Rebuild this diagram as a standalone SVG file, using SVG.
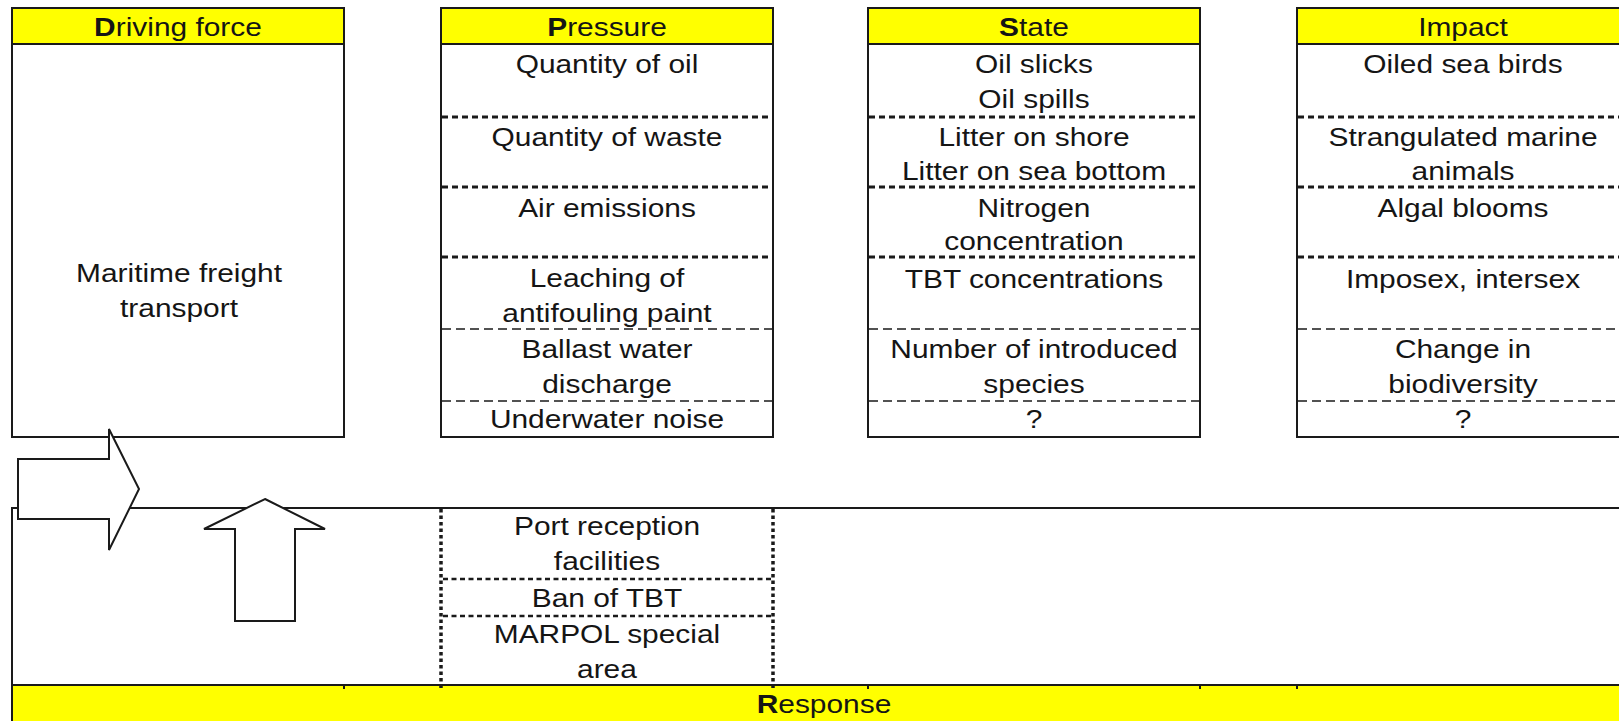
<svg xmlns="http://www.w3.org/2000/svg" width="1619" height="721" viewBox="0 0 1619 721">
<style>
.box{fill:#fff;stroke:#1a1a1a;stroke-width:2}
.hdr{fill:#ffff00;stroke:#1a1a1a;stroke-width:2}
.t{font-family:"Liberation Sans",Arial,sans-serif;font-size:26px;fill:#151515;text-anchor:middle;transform-box:fill-box;transform-origin:center;transform:scaleX(1.15)}
.b{font-weight:bold}
.dk{stroke:#1a1a1a;stroke-width:3;stroke-dasharray:6 4;fill:none}
.dt{stroke:#1a1a1a;stroke-width:1.4;stroke-dasharray:9 5;fill:none}
.dv{stroke:#1a1a1a;stroke-width:3.5;stroke-dasharray:3.5 3;fill:none}
.dr{stroke:#1a1a1a;stroke-width:2.5;stroke-dasharray:5 3.5;fill:none}
.ln{stroke:#1a1a1a;stroke-width:2;fill:none}
.arr{fill:#fff;stroke:#1a1a1a;stroke-width:2;stroke-linejoin:miter}
</style>
<rect width="1619" height="721" fill="#fff"/>

<g id="node-response">
<path class="ln" d="M12,685 V508 H1625"/>
<rect x="12" y="685" width="1612" height="40" fill="#ffff00" stroke="#1a1a1a" stroke-width="2"/>
<path class="ln" d="M344,685v4 M868,685v4 M1200,685v4 M1297,685v4"/>
<line class="dv" x1="441" y1="509" x2="441" y2="688"/>
<line class="dv" x1="773" y1="509" x2="773" y2="688"/>
<line class="dr" x1="443" y1="579" x2="771" y2="579"/>
<line class="dr" x1="443" y1="616" x2="771" y2="616"/>
<text class="t" x="607" y="535">Port reception</text>
<text class="t" x="607" y="570">facilities</text>
<text class="t" x="607" y="607">Ban of TBT</text>
<text class="t" x="607" y="643">MARPOL special</text>
<text class="t" x="607" y="678">area</text>
<text class="t" x="824" y="713"><tspan class="b">R</tspan>esponse</text>
</g>

<g id="node-driving">
<rect class="box" x="12" y="8" width="332" height="429"/>
<rect class="hdr" x="12" y="8" width="332" height="36"/>
<text class="t" x="178" y="36"><tspan class="b">D</tspan>riving force</text>
<text class="t" x="179" y="282">Maritime freight</text>
<text class="t" x="179" y="317">transport</text>
</g>

<g id="node-pressure">
<rect class="box" x="441" y="8" width="332" height="429"/>
<rect class="hdr" x="441" y="8" width="332" height="36"/>
<text class="t" x="607" y="36"><tspan class="b">P</tspan>ressure</text>
<line class="dk" x1="442" y1="117" x2="772" y2="117"/>
<line class="dk" x1="442" y1="187" x2="772" y2="187"/>
<line class="dk" x1="442" y1="257" x2="772" y2="257"/>
<line class="dt" x1="442" y1="329" x2="772" y2="329"/>
<line class="dt" x1="442" y1="401" x2="772" y2="401"/>
<text class="t" x="607" y="73">Quantity of oil</text>
<text class="t" x="607" y="146">Quantity of waste</text>
<text class="t" x="607" y="217">Air emissions</text>
<text class="t" x="607" y="287">Leaching of</text>
<text class="t" x="607" y="322">antifouling paint</text>
<text class="t" x="607" y="358">Ballast water</text>
<text class="t" x="607" y="393">discharge</text>
<text class="t" x="607" y="428">Underwater noise</text>
</g>

<g id="node-state">
<rect class="box" x="868" y="8" width="332" height="429"/>
<rect class="hdr" x="868" y="8" width="332" height="36"/>
<text class="t" x="1034" y="36"><tspan class="b">S</tspan>tate</text>
<line class="dk" x1="869" y1="117" x2="1199" y2="117"/>
<line class="dk" x1="869" y1="187" x2="1199" y2="187"/>
<line class="dk" x1="869" y1="257" x2="1199" y2="257"/>
<line class="dt" x1="869" y1="329" x2="1199" y2="329"/>
<line class="dt" x1="869" y1="401" x2="1199" y2="401"/>
<text class="t" x="1034" y="73">Oil slicks</text>
<text class="t" x="1034" y="108">Oil spills</text>
<text class="t" x="1034" y="146">Litter on shore</text>
<text class="t" x="1034" y="180">Litter on sea bottom</text>
<text class="t" x="1034" y="217">Nitrogen</text>
<text class="t" x="1034" y="250">concentration</text>
<text class="t" x="1034" y="288">TBT concentrations</text>
<text class="t" x="1034" y="358">Number of introduced</text>
<text class="t" x="1034" y="393">species</text>
<text class="t" x="1034" y="428">?</text>
</g>

<g id="node-impact">
<rect class="box" x="1297" y="8" width="332" height="429"/>
<rect class="hdr" x="1297" y="8" width="332" height="36"/>
<text class="t" x="1463" y="36">Impact</text>
<line class="dk" x1="1298" y1="117" x2="1628" y2="117"/>
<line class="dk" x1="1298" y1="187" x2="1628" y2="187"/>
<line class="dk" x1="1298" y1="257" x2="1628" y2="257"/>
<line class="dt" x1="1298" y1="329" x2="1628" y2="329"/>
<line class="dt" x1="1298" y1="401" x2="1628" y2="401"/>
<text class="t" x="1463" y="73">Oiled sea birds</text>
<text class="t" x="1463" y="146">Strangulated marine</text>
<text class="t" x="1463" y="180">animals</text>
<text class="t" x="1463" y="217">Algal blooms</text>
<text class="t" x="1463" y="288">Imposex, intersex</text>
<text class="t" x="1463" y="358">Change in</text>
<text class="t" x="1463" y="393">biodiversity</text>
<text class="t" x="1463" y="428">?</text>
</g>

<g id="connectors">
<polygon class="arr" points="18,459 109,459 109,429 139,489 109,550 109,519 18,519"/>
<polygon class="arr" points="265,499 325,529 295,529 295,621 235,621 235,529 204,529"/>
</g>
</svg>
